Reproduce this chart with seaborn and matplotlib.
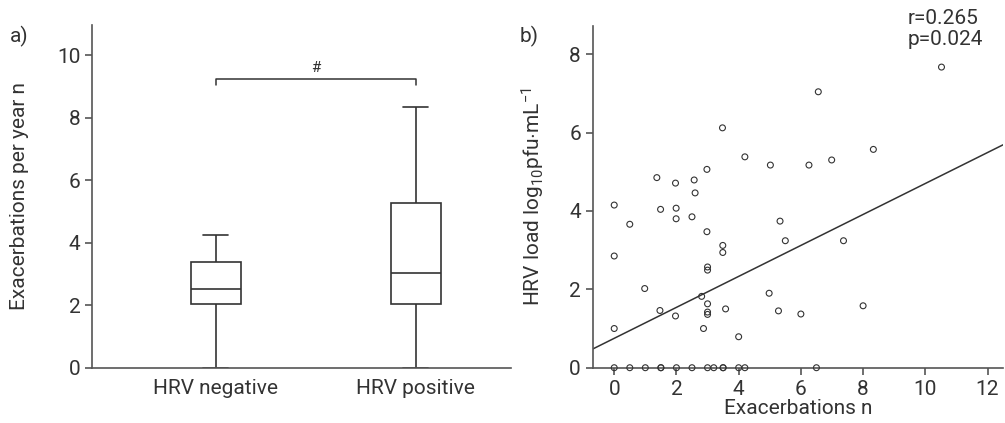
import numpy as np
import pandas as pd
import matplotlib
matplotlib.use('Agg')
import matplotlib.pyplot as plt
import seaborn as sns

# panel a: box summary (min, Q1, median, Q3, max) per group
groups = ['HRV negative', 'HRV positive']
neg_summary = [0.0, 2.04, 2.52, 3.38, 4.24]
pos_summary = [0.0, 2.04, 3.03, 5.27, 8.34]

# panel b: exacerbations vs HRV load
exac = [10.52, 6.56, 3.48, 8.33, 4.20, 6.99, 5.02, 6.26, 2.98, 1.37,
        2.57, 1.97, 2.60, 0.0, 1.49, 1.99, 1.99, 2.50, 0.50, 2.98,
        5.33, 3.49, 3.49, 5.50, 7.37, 0.0, 3.0, 3.0, 0.98, 4.98,
        2.81, 3.0, 8.0, 1.47, 5.28, 3.58, 3.0, 3.0, 6.0, 1.97,
        0.0, 2.87, 4.0,
        0.0, 0.5, 1.0, 1.5, 1.5, 2.0, 2.5, 3.0, 3.2, 3.5, 3.5, 4.0, 4.2, 6.5]
load = [7.67, 7.04, 6.12, 5.57, 5.38, 5.30, 5.17, 5.17, 5.06, 4.85,
        4.79, 4.71, 4.46, 4.15, 4.04, 4.07, 3.80, 3.85, 3.66, 3.47,
        3.74, 3.12, 2.94, 3.24, 3.24, 2.85, 2.57, 2.49, 2.02, 1.90,
        1.82, 1.63, 1.58, 1.46, 1.45, 1.50, 1.42, 1.36, 1.37, 1.32,
        1.0, 1.0, 0.79,
        0, 0, 0, 0, 0, 0, 0, 0, 0, 0, 0, 0, 0, 0]
# regression line as published
fit_intercept = 0.75
fit_slope = 0.395
r_text = 'r=0.265\np=0.024'

sns.set_style('ticks')
plt.rcParams['font.family'] = ['Roboto', 'DejaVu Sans']
plt.rcParams['mathtext.fontset'] = 'custom'
plt.rcParams['mathtext.rm'] = 'Roboto'
plt.rcParams['mathtext.it'] = 'Roboto'
dark = '#333333'
axc = '#555555'
fs = 15

fig = plt.figure(figsize=(10.05, 4.23), dpi=100)
ax1 = fig.add_axes([0.0918, 0.1307, 0.4163, 0.810])
ax2 = fig.add_axes([0.5898, 0.1307, 0.4083, 0.808])

# -------------------------------
# a) boxplot
box_df = pd.DataFrame({
    'group': [groups[0]] * 5 + [groups[1]] * 5,
    'value': neg_summary + pos_summary,
})
lw = 1.2
sns.boxplot(data=box_df, x='group', y='value', ax=ax1, whis=(0, 100), width=0.25,
            color='white', linewidth=lw, linecolor=dark, fliersize=0,
            boxprops=dict(facecolor='white', edgecolor=dark, linewidth=lw),
            whiskerprops=dict(color=dark, linewidth=lw),
            capprops=dict(color=dark, linewidth=lw),
            medianprops=dict(color=dark, linewidth=lw))
ax1.set_xlim(-0.616, 1.473)
ax1.set_ylim(0, 10.96)
ax1.set_yticks([0, 2, 4, 6, 8, 10])
ax1.set_xlabel('')
ax1.set_ylabel('Exacerbations per year n', fontsize=fs, color=dark, labelpad=20)
ax1.tick_params(axis='x', length=0, labelsize=fs, labelcolor=dark, pad=8)
ax1.tick_params(axis='y', length=5, width=1.2, color=axc, labelsize=fs, labelcolor=dark)

# significance bracket
br_y, br_drop = 9.25, 9.04
ax1.plot([0, 0, 1, 1], [br_drop, br_y, br_y, br_drop], color=dark, lw=1.1)
ax1.text(0.5, br_y + 0.12, '#', ha='center', va='bottom', fontsize=11, color=dark)

# -------------------------------
# b) scatter with regression line
ax2.set_xlim(-0.69, 12.5)
ax2.set_ylim(0, 8.72)
sns.scatterplot(x=exac, y=load, ax=ax2, s=18, facecolors='none', edgecolor=dark,
                linewidth=0.8, clip_on=False, zorder=3)
xl = np.array(ax2.get_xlim())
sns.lineplot(x=xl, y=fit_intercept + fit_slope * xl, ax=ax2, color=dark, lw=1.1)
ax2.set_xlim(-0.69, 12.5)
ax2.set_ylim(0, 8.72)
ax2.set_xticks([0, 2, 4, 6, 8, 10, 12])
ax2.set_yticks([0, 2, 4, 6, 8])
ax2.set_xlabel('Exacerbations n', fontsize=fs, color=dark, labelpad=0)
ax2.set_ylabel(r'HRV load log$_{10}$pfu$\cdot$mL$^{-1}$', fontsize=fs, color=dark, labelpad=16)
ax2.tick_params(length=5, width=1.2, color=axc, labelsize=fs, labelcolor=dark)
ax2.text(0.768, 1.05, r_text, transform=ax2.transAxes, ha='left', va='top',
         fontsize=fs, color=dark, linespacing=1.15)

for ax in (ax1, ax2):
    sns.despine(ax=ax)
    for s in ('left', 'bottom'):
        ax.spines[s].set_color(axc)
        ax.spines[s].set_linewidth(1.2)

fig.text(0.01, 0.90, 'a)', fontsize=fs, color=dark)
fig.text(0.517, 0.90, 'b)', fontsize=fs, color=dark)

fig.savefig('out.png', dpi=100)
